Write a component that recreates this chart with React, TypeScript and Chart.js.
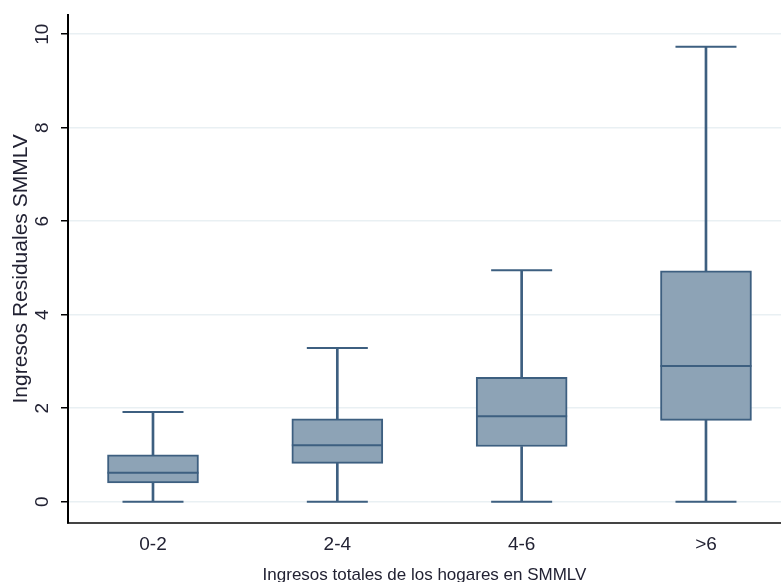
import React, { useEffect, useRef } from "react";
import { Chart, registerables } from "chart.js";

Chart.register(...registerables);

const categories = ["0-2", "2-4", "4-6", ">6"];
const categoryPositions = [1, 2, 3, 4];
const lowerWhisker = [0, 0, 0, 0];
const q1Values = [0.4, 0.82, 1.18, 1.74];
const medianValues = [0.62, 1.21, 1.83, 2.9];
const q3Values = [1.0, 1.77, 2.66, 4.94];
const upperWhisker = [1.92, 3.29, 4.95, 9.73];
const yTickValues = [0, 2, 4, 6, 8, 10];

const FONT = "'Liberation Sans', Arial, sans-serif";
const TEXT = "#222233";
const BOX_FILL = "#8da3b6";
const BOX_LINE = "#3d5f80";

const boxExtras = {
  id: "boxExtras",
  afterDatasetsDraw(chart: any) {
    const { ctx, scales } = chart;
    const xs = scales.x;
    const ys = scales.y;
    const capHalf = 30.5;
    const boxHalf = 45.5;
    ctx.save();
    ctx.strokeStyle = BOX_LINE;
    categoryPositions.forEach((pos, i) => {
      const cx = xs.getPixelForValue(pos);
      ctx.lineWidth = 2;
      [lowerWhisker[i], upperWhisker[i]].forEach((v) => {
        const py = ys.getPixelForValue(v);
        ctx.beginPath();
        ctx.moveTo(cx - capHalf, py);
        ctx.lineTo(cx + capHalf, py);
        ctx.stroke();
      });
      const my = ys.getPixelForValue(medianValues[i]);
      ctx.beginPath();
      ctx.moveTo(cx - boxHalf, my);
      ctx.lineTo(cx + boxHalf, my);
      ctx.stroke();
    });
    ctx.restore();
  },
};

export default function App() {
  const canvasRef = useRef<HTMLCanvasElement | null>(null);

  useEffect(() => {
    if (!canvasRef.current) return;
    const chart = new Chart(canvasRef.current, {
      type: "bar",
      data: {
        datasets: [
          {
            label: "upper",
            data: categoryPositions.map((x, i) => ({ x, y: [q3Values[i], upperWhisker[i]] })) as any,
            backgroundColor: BOX_LINE,
            borderWidth: 0,
            barThickness: 2,
            grouped: false,
          } as any,
          {
            label: "lower",
            data: categoryPositions.map((x, i) => ({ x, y: [lowerWhisker[i], q1Values[i]] })) as any,
            backgroundColor: BOX_LINE,
            borderWidth: 0,
            barThickness: 2,
            grouped: false,
          } as any,
          {
            label: "box",
            data: categoryPositions.map((x, i) => ({ x, y: [q1Values[i], q3Values[i]] })) as any,
            backgroundColor: BOX_FILL,
            borderColor: BOX_LINE,
            borderWidth: 2,
            borderSkipped: false,
            barThickness: 91,
            grouped: false,
          } as any,
        ],
      },
      options: {
        responsive: false,
        animation: false,
        layout: { padding: { top: 15, right: 0, left: 0, bottom: 0 } },
        plugins: { legend: { display: false }, tooltip: { enabled: false } },
        scales: {
          x: {
            type: "linear",
            offset: false,
            min: 0.5389,
            max: 4.407,
            afterBuildTicks: (scale: any) => {
              scale.ticks = categoryPositions.map((v) => ({ value: v }));
            },
            afterFit: (scale: any) => {
              scale.height = 69.3;
              scale.paddingLeft = 0;
              scale.paddingRight = 0;
            },
            grid: { display: false, drawTicks: false, offset: false },
            border: { display: true, color: "#444444", width: 2 },
            ticks: {
              font: { family: FONT, size: 19 },
              color: TEXT,
              padding: 11,
              maxRotation: 0,
              minRotation: 0,
              callback: (v: any) => categories[categoryPositions.indexOf(Number(v))] ?? "",
            },
            title: {
              display: true,
              text: "Ingresos totales de los hogares en SMMLV",
              font: { family: FONT, size: 17 },
              color: TEXT,
              padding: { top: 0, bottom: 6.8 },
            },
          },
          y: {
            type: "linear",
            min: -0.449,
            max: 10.41,
            afterBuildTicks: (scale: any) => {
              scale.ticks = yTickValues.map((v) => ({ value: v }));
            },
            afterFit: (scale: any) => {
              scale.width = 68;
              scale.paddingTop = 0;
              scale.paddingBottom = 0;
            },
            grid: {
              color: "#e9f0f3",
              lineWidth: 1.5,
              tickColor: "#000000",
              tickLength: 7,
              drawTicks: true,
            },
            border: { display: true, color: "#000000", width: 2 },
            ticks: {
              font: { family: FONT, size: 19 },
              color: TEXT,
              padding: 8,
              minRotation: 90,
              maxRotation: 90,
              crossAlign: "center",
              callback: (v: any) => String(v),
            },
            title: {
              display: true,
              text: "Ingresos Residuales SMMLV",
              font: { family: FONT, size: 21 },
              color: TEXT,
              padding: { top: 8.4, bottom: 0 },
            },
          },
        },
      } as any,
      plugins: [boxExtras],
    });
    return () => chart.destroy();
  }, []);

  return (
    <div
      style={{
        position: "fixed",
        left: 0,
        top: 0,
        width: 781,
        height: 582,
        overflow: "hidden",
        background: "#ffffff",
      }}
    >
      <canvas ref={canvasRef} width={781} height={592} style={{ display: "block" }} />
    </div>
  );
}
